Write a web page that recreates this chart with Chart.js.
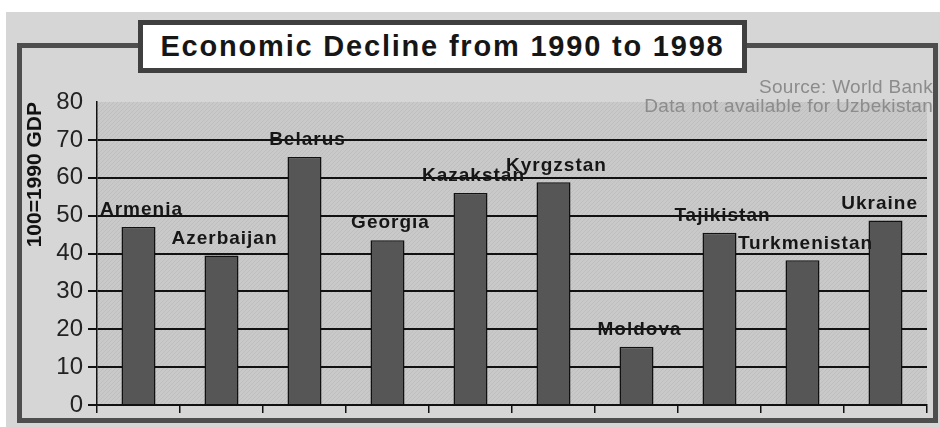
<!DOCTYPE html>
<html>
<head>
<meta charset="utf-8">
<script src="https://cdn.jsdelivr.net/npm/chart.js@4.4.1/dist/chart.umd.min.js"></script>
<style>
    body {
        margin: 0;
        width: 940px;
        height: 427px;
        overflow: hidden;
        position: relative;
        background: #ffffff;
        font-family: "Liberation Sans", Arial, sans-serif;
    }
    #fundo {
        position: absolute;
        left: 6px;
        top: 12px;
        width: 934px;
        height: 415px;
        background: #d6d6d6;
    }
    #moldura {
        position: absolute;
        left: 17px;
        top: 43px;
        width: 911px;
        height: 370px;
        border: 5px solid #4e4e4e;
    }
    #titulo {
        position: absolute;
        left: 138px;
        top: 20px;
        width: 599px;
        height: 43px;
        border: 5px solid #404040;
        background: #ffffff;
        display: flex;
        align-items: center;
        justify-content: center;
        font-size: 29px;
        font-weight: bold;
        letter-spacing: 1.8px;
        color: #161616;
        z-index: 3;
    }
    #caixaGrafico {
        position: absolute;
        left: 0;
        top: 0;
        width: 940px;
        height: 427px;
        z-index: 2;
    }
</style>
</head>
<body>
<div id="fundo"></div>
<div id="moldura"></div>
<div id="titulo">Economic Decline from 1990 to 1998</div>
<div id="caixaGrafico"><canvas id="grafico_declinio"></canvas></div>

<script>
var paises = ["Armenia", "Azerbaijan", "Belarus", "Georgia", "Kazakstan", "Kyrgzstan", "Moldova", "Tajikistan", "Turkmenistan", "Ukraine"];
var pib1998 = [47, 39.5, 65.5, 43.5, 56, 58.8, 15.4, 45.5, 38.2, 48.7];
var ticksEixoY = [0, 10, 20, 30, 40, 50, 60, 70, 80];
var notasFonte = ["Source: World Bank", "Data not available for Uzbekistan"];

// textura listrada do fundo da area do grafico
function criarTextura(corBase, corLinha) {
    var c = document.createElement('canvas');
    c.width = 4;
    c.height = 4;
    var g = c.getContext('2d');
    g.fillStyle = corBase;
    g.fillRect(0, 0, 4, 4);
    g.strokeStyle = corLinha;
    g.lineWidth = 1;
    g.beginPath();
    g.moveTo(0, 4);
    g.lineTo(4, 0);
    g.stroke();
    return g.createPattern(c, 'repeat');
}

var fundoArea = {
    id: 'fundoArea',
    beforeDraw: function (chart) {
        var a = chart.chartArea;
        var ctx = chart.ctx;
        ctx.save();
        ctx.fillStyle = criarTextura('#c9c9c9', '#bfbfbf');
        ctx.fillRect(a.left, a.top, a.right - a.left, a.bottom - a.top);
        ctx.restore();
    }
};

var rotulosBarras = {
    id: 'rotulosBarras',
    afterDatasetsDraw: function (chart) {
        var ctx = chart.ctx;
        var barras = chart.getDatasetMeta(0).data;
        ctx.save();
        ctx.font = 'bold 19px "Liberation Sans", Arial, sans-serif';
        ctx.letterSpacing = '1px';
        ctx.fillStyle = '#161616';
        ctx.textAlign = 'center';
        ctx.textBaseline = 'middle';
        for (var i = 0; i < barras.length; i++) {
            var b = barras[i];
            var largura = ctx.measureText(paises[i]).width;
            var x = b.x + 3;
            var limite = chart.chartArea.right - 9;
            if (x + largura / 2 > limite) {
                x = limite - largura / 2;
            }
            ctx.fillText(paises[i], x, b.y - 17);
        }
        ctx.restore();
    }
};

var notas = {
    id: 'notas',
    afterDraw: function (chart) {
        var ctx = chart.ctx;
        var a = chart.chartArea;
        ctx.save();
        ctx.font = '19px "Liberation Sans", Arial, sans-serif';
        ctx.letterSpacing = '0.3px';
        ctx.fillStyle = '#8c8c8c';
        ctx.textAlign = 'right';
        ctx.textBaseline = 'middle';
        for (var i = 0; i < notasFonte.length; i++) {
            ctx.fillText(notasFonte[i], a.right + 6, a.top - 14 + i * 19);
        }
        ctx.restore();
    }
};

var graficoDeclinio = new Chart(document.getElementById('grafico_declinio').getContext('2d'), {
    type: 'bar',
    data: {
        labels: paises,
        datasets: [{
            label: '100=1990 GDP',
            data: pib1998,
            backgroundColor: '#565656',
            borderColor: '#111111',
            borderWidth: 1.5,
            categoryPercentage: 1,
            barPercentage: 0.41
        }]
    },
    options: {
        responsive: true,
        maintainAspectRatio: false,
        animation: false,
        layout: {
            padding: { top: 102, left: 0, right: 13, bottom: 0 }
        },
        plugins: {
            legend: { display: false },
            tooltip: { enabled: false }
        },
        scales: {
            x: {
                ticks: { display: false },
                grid: {
                    drawOnChartArea: false,
                    drawTicks: true,
                    tickLength: 8,
                    color: '#111111',
                    lineWidth: 1.5,
                    offset: true
                },
                border: { color: '#111111', width: 1.5 },
                afterFit: function (escala) {
                    escala.height = 22;
                }
            },
            y: {
                min: 0,
                max: 80,
                afterBuildTicks: function (escala) {
                    escala.ticks = ticksEixoY.map(function (v) { return { value: v }; });
                },
                ticks: {
                    color: '#222222',
                    padding: 5,
                    font: { size: 24, family: '"Liberation Sans", Arial, sans-serif' }
                },
                grid: {
                    color: function (ctx) {
                        return ctx.tick && ctx.tick.value == 80 ? 'rgba(0,0,0,0)' : '#111111';
                    },
                    lineWidth: 2,
                    tickLength: 9
                },
                border: { color: '#111111', width: 1.5 },
                title: {
                    display: true,
                    text: '100=1990 GDP',
                    align: 'end',
                    color: '#111111',
                    font: { size: 21, weight: 'bold', family: '"Liberation Sans", Arial, sans-serif' },
                    padding: { top: 23, bottom: 0 }
                },
                afterFit: function (escala) {
                    escala.width = 97;
                }
            }
        }
    },
    plugins: [fundoArea, rotulosBarras, notas]
});
</script>
</body>
</html>
